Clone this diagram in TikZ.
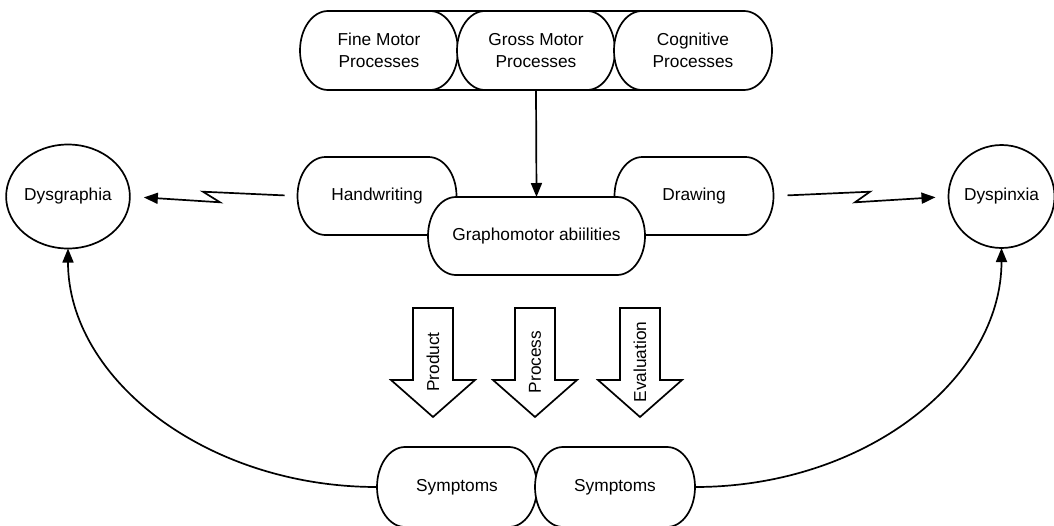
\documentclass[tikz,border=0pt]{standalone}
\usepackage{fontspec}
\setmainfont{Liberation Sans}
\usetikzlibrary{arrows.meta,shapes.geometric}
\makeatletter
\pgfdeclareshape{stadium}{%
  \inheritsavedanchors[from=rectangle]%
  \inheritanchorborder[from=rectangle]%
  \inheritanchor[from=rectangle]{center}%
  \inheritanchor[from=rectangle]{text}%
  \inheritanchor[from=rectangle]{base}%
  \inheritanchor[from=rectangle]{mid}%
  \inheritanchor[from=rectangle]{north}%
  \inheritanchor[from=rectangle]{south}%
  \inheritanchor[from=rectangle]{east}%
  \inheritanchor[from=rectangle]{west}%
  \inheritanchor[from=rectangle]{north east}%
  \inheritanchor[from=rectangle]{north west}%
  \inheritanchor[from=rectangle]{south east}%
  \inheritanchor[from=rectangle]{south west}%
  \backgroundpath{%
    \southwest \edef\stXa{\the\pgf@x}\edef\stYa{\the\pgf@y}%
    \northeast \edef\stXb{\the\pgf@x}\edef\stYb{\the\pgf@y}%
    \pgfmathsetmacro\stRy{(\stYb-\stYa)/2}%
    \def\stRx{28}%
    \pgfpathmoveto{\pgfpoint{\stXa+\stRx pt}{\stYb}}%
    \pgfpathlineto{\pgfpoint{\stXb-\stRx pt}{\stYb}}%
    \pgfpatharc{90}{-90}{\stRx pt and \stRy pt}%
    \pgfpathlineto{\pgfpoint{\stXa+\stRx pt}{\stYa}}%
    \pgfpatharc{270}{90}{\stRx pt and \stRy pt}%
    \pgfpathclose
  }%
}
\makeatother
\begin{document}
\begin{tikzpicture}[x=1pt,y=1pt,
  lbl/.style={font=\fontsize{17.3}{21.5}\selectfont},
  stad/.style={shape=stadium, draw, fill=white, line width=1.7pt, outer sep=0pt,
    inner sep=0pt, align=center, lbl},
  toprow/.style={stad, minimum width=158pt, minimum height=79pt},
  midrow/.style={stad, minimum width=159pt, minimum height=78pt},
  symrow/.style={stad, minimum width=160pt, minimum height=80pt},
  disorder/.style={ellipse, draw, line width=1.7pt, inner sep=0pt, outer sep=0pt, lbl},
  conn/.style={line width=1.7pt, -{Triangle[length=14pt,width=11pt]}},
  zig/.style={conn, line join=miter},
  blockarrow/.style={draw, fill=white, line width=1.7pt, line join=miter},
  container/.style={draw, line width=1.7pt}
]
\useasboundingbox (0,0) rectangle (1054,-525);

% top group
\draw[container] (340,-11) rectangle (730,-90);
\node[toprow] (fine) at (379,-50.5) {Fine Motor\\Processes};
\node[toprow] (gross) at (536,-50.5) {Gross Motor\\Processes};
\node[toprow] (cogn) at (693,-50.5) {Cognitive\\Processes};

% middle
\node[midrow] (hand) at (377,-196) {Handwriting};
\node[midrow] (drw) at (694,-196) {Drawing};
\node[stad, minimum width=217pt, minimum height=78pt] (graph) at (536.5,-236) {Graphomotor abiilities};

% disorders
\node[disorder, minimum width=108pt, minimum height=104pt] (dysg) at (68,-196.5) {Dysgraphia};
\node[disorder, minimum width=103pt, minimum height=103pt] (dysp) at (1001.5,-196.5) {Dyspinxia};

% symptoms
\node[symrow] (sym1) at (457,-487) {Symptoms};
\node[symrow] (sym2) at (615,-487) {Symptoms};

% connectors
\draw[conn] (gross.south) -- (graph.north);
\draw[zig, shorten <=13pt, shorten >=14pt] (hand.west) -- (203,-191.7) -- (220,-202.3) -- (dysg.east);
\draw[zig, shorten <=14pt, shorten >=13pt] (drw.east) -- (870,-191.7) -- (855,-202.3) -- (dysp.west);
\draw[conn] (sym1.west) to[out=180, in=-90, out distance=171pt, in distance=130pt] (dysg.south);
\draw[conn] (sym2.east) to[out=0, in=-90, out distance=171pt, in distance=130pt] (dysp.south);

% block arrows
\foreach \cx/\nm/\txt in {433/prod/Product, 535/proc/Process, 640/eval/Evaluation}{
  \draw[blockarrow] (\cx-20,-308) -- (\cx+20,-308) -- (\cx+20,-380) -- (\cx+42,-380)
    -- (\cx,-417) -- (\cx-42,-380) -- (\cx-20,-380) -- cycle;
  \node[lbl, rotate=90, inner sep=0pt] (\nm) at (\cx,-362) {\txt};
}
\end{tikzpicture}
\end{document}
